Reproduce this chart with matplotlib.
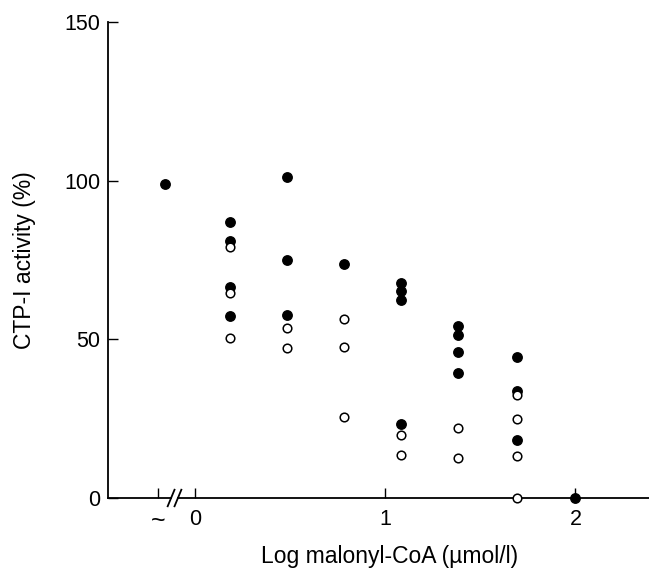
import matplotlib
matplotlib.use('Agg')
import matplotlib.pyplot as plt

plt.rcParams['font.family'] = ['Liberation Sans', 'DejaVu Sans']

# log malonyl-CoA positions (control plotted at the "~" break position)
x_ctrl = -0.16

# filled circles
filled_x = [x_ctrl,
            0.18, 0.18, 0.18, 0.18,
            0.48, 0.48, 0.48,
            0.78,
            1.08, 1.08, 1.08, 1.08,
            1.38, 1.38, 1.38, 1.38,
            1.69, 1.69, 1.69,
            2.0]
filled_y = [99,
            87, 81, 66.6, 57.4,
            101, 75, 57.5,
            73.7,
            67.8, 65.2, 62.5, 23.4,
            54.2, 51.5, 46, 39.4,
            44.3, 33.7, 18.3,
            0]

# open circles
open_x = [0.18, 0.18, 0.18,
          0.48, 0.48,
          0.78, 0.78, 0.78,
          1.08, 1.08,
          1.38, 1.38,
          1.69, 1.69, 1.69, 1.69]
open_y = [79.1, 64.6, 50.3,
          53.6, 47.2,
          56.4, 47.5, 25.6,
          19.8, 13.7,
          21.9, 12.6,
          32.3, 25.0, 13.3, 0]

x_ticks = [-0.195, 0, 1, 2]
x_ticklabels = ['~', '0', '1', '2']
y_ticks = [0, 50, 100, 150]

fig = plt.figure(figsize=(6.49, 5.70), dpi=100)
ax = fig.add_axes([0.167, 0.1263, 0.833, 0.8355])

ax.set_xlim(-0.458, 2.387)
ax.set_ylim(0, 150)

ax.plot(filled_x, filled_y, 'o', color='black', markersize=6.8,
        clip_on=False, zorder=4)
ax.plot(open_x, open_y, 'o', markerfacecolor='white', markeredgecolor='black',
        markeredgewidth=1.1, markersize=6.2, clip_on=False, zorder=5)

for s in ['top', 'right', 'bottom']:
    ax.spines[s].set_visible(False)
ax.spines['left'].set_linewidth(1.3)

# broken x axis
brk_l, brk_r = -0.128, -0.092
ax.plot([-0.458, brk_l], [0, 0], color='black', lw=1.3, clip_on=False, zorder=3)
ax.plot([brk_r, 2.387], [0, 0], color='black', lw=1.3, clip_on=False, zorder=3)
for bx in [brk_l, brk_r]:
    ax.plot([bx - 0.018, bx + 0.018], [-2.6, 2.6], color='black', lw=1.3,
            clip_on=False, zorder=3)

ax.set_xticks(x_ticks)
ax.set_xticklabels(x_ticklabels)
ax.set_yticks(y_ticks)
ax.tick_params(axis='both', direction='in', length=7, width=1.0,
               labelsize=15.5, colors='black')
ax.tick_params(axis='x', pad=8)
ax.tick_params(axis='y', pad=6)
ax.get_xticklabels()[0].set_fontsize(18)

ax.set_xlabel('Log malonyl-CoA (\u00b5mol/l)', fontsize=16.5)
ax.xaxis.set_label_coords(0.52, -0.098)
ax.set_ylabel('CTP-I activity (%)', fontsize=16.5, labelpad=20)

fig.savefig('out.png', dpi=100)
